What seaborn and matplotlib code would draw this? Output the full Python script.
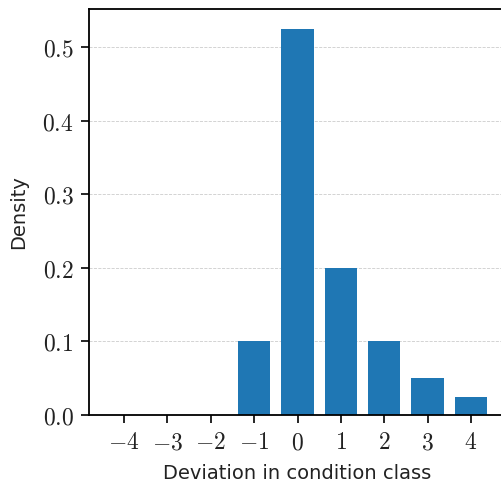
import matplotlib
matplotlib.use("Agg")
import matplotlib.pyplot as plt
import seaborn as sns
import pandas as pd

categories = [-4, -3, -2, -1, 0, 1, 2, 3, 4]
density = [0.0, 0.0, 0.0, 0.1, 0.525, 0.2, 0.1, 0.05, 0.025]
y_ticks = [0.0, 0.1, 0.2, 0.3, 0.4, 0.5]

sns.set_style("ticks")
plt.rcParams["font.family"] = ["DejaVu Sans"]
plt.rcParams["mathtext.fontset"] = "cm"

df = pd.DataFrame({"dev": categories, "density": density})

fig = plt.figure(figsize=(5.01, 4.88), dpi=100)
ax = fig.add_axes([89/501, 1-415/488, 417/501, (415-9)/488])

sns.barplot(data=df, x="dev", y="density", order=categories, color="#1f77b4",
            saturation=1, width=0.75, ax=ax, linewidth=0, zorder=2)

ax.set_xlim(-0.81, 8.81)
ax.set_ylim(0, 0.5516)
ax.set_yticks(y_ticks)
ax.set_yticklabels([f"${v:.1f}$" for v in y_ticks])
ax.set_xticks(range(len(categories)))
ax.set_xticklabels([f"${c}$" for c in categories])
ax.tick_params(axis="both", labelsize=17, length=6, width=1.2, direction="out",
               colors="black", labelcolor="#222222")
ax.tick_params(axis="x", pad=5)
ax.tick_params(axis="y", pad=5)
ax.yaxis.grid(True, linestyle="--", linewidth=0.6, color="#cccccc")
ax.set_axisbelow(True)
for s in ax.spines.values():
    s.set_linewidth(1.3)
    s.set_color("black")

ax.set_xlabel("Deviation in condition class", fontsize=14, labelpad=7, color="#222222")
ax.set_ylabel("Density", fontsize=14, labelpad=10, color="#222222")

fig.savefig("out.png", dpi=100)
